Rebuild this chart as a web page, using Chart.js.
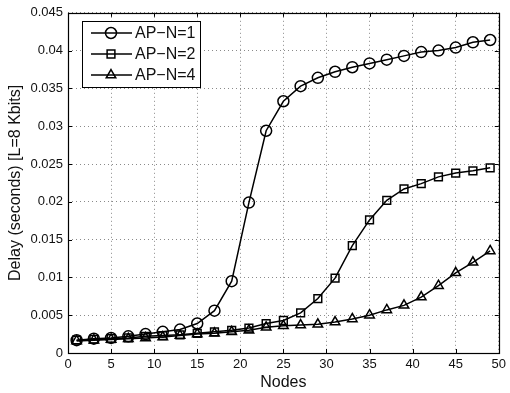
<!DOCTYPE html>
<html>
<head>
<meta charset="utf-8">
<script src="https://cdn.jsdelivr.net/npm/chart.js@4.4.1/dist/chart.umd.min.js"></script>
<style>
html,body{margin:0;padding:0;background:#fff;}
canvas{display:block;}
</style>
</head>
<body>
<canvas id="c" width="510" height="393"></canvas>
<script>
const nodes = [1,3,5,7,9,11,13,15,17,19,21,23,25,27,29,31,33,35,37,39,41,43,45,47,49];
const apn1 = [0.0017,0.0019,0.0020,0.0022,0.0025,0.0028,0.0031,0.0039,0.0056,0.0095,0.0199,0.0294,0.0333,0.0353,0.0364,0.0372,0.0378,0.0383,0.0388,0.0393,0.0398,0.0400,0.0404,0.0411,0.0414];
const apn2 = [0.0017,0.0018,0.0019,0.0020,0.0022,0.0023,0.0024,0.0026,0.0028,0.0030,0.0033,0.0039,0.0043,0.0053,0.0072,0.0099,0.0142,0.0176,0.0202,0.0217,0.0224,0.0233,0.0238,0.0241,0.0245];
const apn4 = [0.0016,0.0017,0.0018,0.0019,0.0020,0.0021,0.0023,0.0025,0.0026,0.0028,0.0030,0.0034,0.0036,0.0037,0.0038,0.0041,0.0045,0.0050,0.0057,0.0063,0.0074,0.0089,0.0106,0.0120,0.0135];
const seriesNames = ['AP\u2212N=1','AP\u2212N=2','AP\u2212N=4'];
const xTitle = 'Nodes';
const yTitle = 'Delay (seconds) [L=8 Kbits]';

const FONT = "'Liberation Sans', Arial, Helvetica, sans-serif";
const styles = ['circle','rect','triangle'];

function mk(name, vals, style){
  return {
    label: name,
    data: nodes.map((x,i)=>({x:x, y:vals[i]})),
    borderColor:'#000', borderWidth:1.5,
    pointStyle: style, pointRadius: 5.5, pointBorderWidth:1.5,
    pointBorderColor:'#000', pointBackgroundColor:'rgba(0,0,0,0)',
    fill:false, tension:0
  };
}

function drawMarker(ctx, style, x, y, r){
  ctx.beginPath();
  if(style==='circle'){ ctx.arc(x,y,r,0,Math.PI*2); }
  else if(style==='rect'){ const s=Math.SQRT1_2*r; ctx.rect(x-s,y-s,2*s,2*s); }
  else {
    ctx.moveTo(x, y - r);
    ctx.lineTo(x + r*Math.cos(Math.PI/6), y + r*0.5);
    ctx.lineTo(x - r*Math.cos(Math.PI/6), y + r*0.5);
    ctx.closePath();
  }
  ctx.stroke();
}

const framePlugin = {
  id:'frame',
  afterDraw(chart){
    const {ctx, chartArea:a, scales} = chart;
    ctx.save();
    ctx.strokeStyle='#000'; ctx.lineWidth=1;
    const tl = 4;
    ctx.beginPath();
    scales.x.ticks.forEach(t=>{
      const px = Math.round(scales.x.getPixelForValue(t.value))+0.5;
      ctx.moveTo(px, a.bottom); ctx.lineTo(px, a.bottom - tl);
      ctx.moveTo(px, a.top); ctx.lineTo(px, a.top + tl);
    });
    scales.y.ticks.forEach(t=>{
      const py = Math.round(scales.y.getPixelForValue(t.value))+0.5;
      ctx.moveTo(a.left, py); ctx.lineTo(a.left + tl, py);
      ctx.moveTo(a.right, py); ctx.lineTo(a.right - tl, py);
    });
    ctx.stroke();
    ctx.lineWidth=1.2;
    ctx.strokeRect(Math.round(a.left)+0.5, Math.round(a.top)+0.5, Math.round(a.right-a.left), Math.round(a.bottom-a.top));
    // legend
    const lx = 82, ly = 21, lw = 118, lh = 66;
    ctx.fillStyle='#fff';
    ctx.fillRect(lx,ly,lw,lh);
    ctx.lineWidth=1;
    ctx.strokeRect(lx+0.5,ly+0.5,lw,lh);
    ctx.font = "16px " + FONT;
    ctx.textBaseline='middle';
    ctx.textAlign='left';
    chart.data.datasets.forEach((ds,i)=>{
      const yy = 33 + i*21;
      ctx.strokeStyle='#000'; ctx.lineWidth=1.5;
      ctx.beginPath(); ctx.moveTo(91,yy); ctx.lineTo(132,yy); ctx.stroke();
      drawMarker(ctx, ds.pointStyle, 111, yy, 5.5);
      ctx.fillStyle='#111';
      ctx.fillText(ds.label, 135, yy+1);
    });
    ctx.restore();
  }
};

new Chart(document.getElementById('c'), {
  type:'line',
  data:{ datasets:[ mk(seriesNames[0],apn1,styles[0]), mk(seriesNames[1],apn2,styles[1]), mk(seriesNames[2],apn4,styles[2]) ] },
  options:{
    responsive:false, animation:false, devicePixelRatio:1,
    layout:{ padding:{ top:11, right:8, left:0, bottom:0 } },
    plugins:{ legend:{display:false}, tooltip:{enabled:false} },
    scales:{
      x:{
        type:'linear', min:0, max:50,
        ticks:{ stepSize:5, padding:4, color:'#111', font:{family:FONT, size:13}, maxRotation:0, autoSkip:false },
        grid:{ color:'#8a8a8a', lineWidth:1, drawTicks:false },
        border:{ display:false, dash:[1,3] },
        title:{ display:true, text:xTitle, color:'#111', font:{family:FONT, size:16}, padding:{top:0,bottom:1} },
        afterFit(s){ s.height = 40; }
      },
      y:{
        type:'linear', min:0, max:0.045,
        ticks:{ stepSize:0.005, padding:5, color:'#111', font:{family:FONT, size:13},
          callback:(v)=>String(Number(v.toFixed(3))) },
        grid:{ color:'#8a8a8a', lineWidth:1, drawTicks:false },
        border:{ display:false, dash:[1,3] },
        title:{ display:true, text:yTitle, color:'#111', font:{family:FONT, size:16}, padding:{top:6,bottom:0} },
        afterFit(s){ s.width = 68; }
      }
    }
  },
  plugins:[framePlugin]
});
</script>
</body>
</html>
